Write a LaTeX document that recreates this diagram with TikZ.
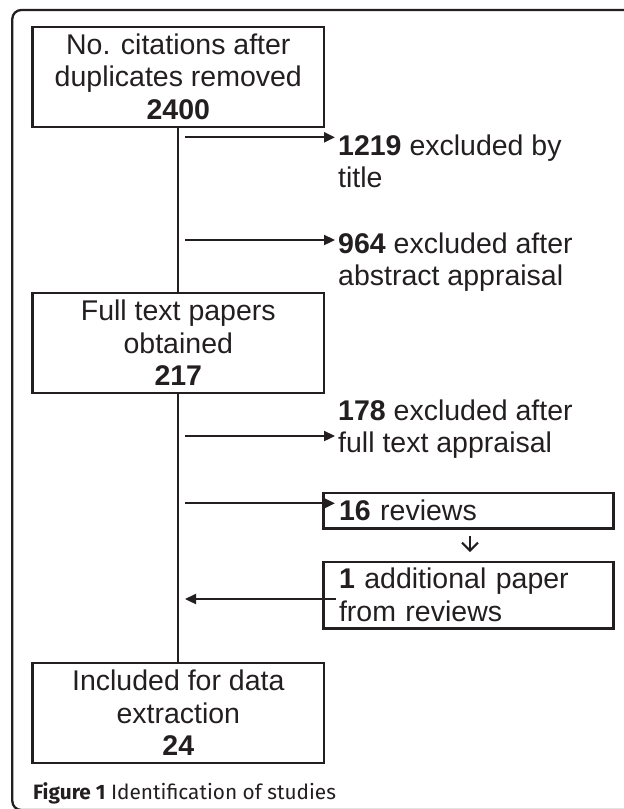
\documentclass[tikz,border=0pt]{standalone}
\usepackage{fontspec}
\setmainfont{Liberation Sans}
\newfontfamily\capfont{Fira Sans}
\usetikzlibrary{arrows.meta}
\definecolor{ink}{HTML}{231F20}
\begin{document}
\begin{tikzpicture}[x=1pt,y=-1pt,
  txt/.style={font=\fontsize{28.5}{32.5}\selectfont, text=ink},
  box/.style={txt, draw=ink, line width=2.4pt, minimum width=291.3pt, minimum height=100pt, inner sep=0pt, align=center},
  lbl/.style={txt, anchor=north west, inner sep=0pt, align=left},
  sidebox/.style={txt, draw=ink, line width=2.4pt, text width=258.6pt, inner xsep=15.7pt, inner ysep=0pt, align=left},
  arr/.style={draw=ink, line width=2.3pt, -{Triangle[length=11pt,width=10pt]}},
  conn/.style={draw=ink, line width=2.3pt}
]
\useasboundingbox (0,0) rectangle (624,809);
\clip (0,0) rectangle (624,809);
% outer frame
\draw[conn, rounded corners=9pt] (12.3,10) rectangle (700,810);
% main boxes
\node[box] (b1) at (178.3,76.7) {No. citations after\\duplicates removed\\\textbf{2400}};
\node[box] (b2) at (178.3,342.7) {Full text papers\\obtained\\\textbf{217}};
\node[box] (b3) at (178.3,712.7) {Included for data\\extraction\\\textbf{24}};
\draw[conn] (b1.south) -- (b2.north);
\draw[conn] (b2.south) -- (b3.north);
% side labels
\node[lbl] (l1) at (338,134.2) {\textbf{1219} excluded by\\title};
\node[lbl] (l2) at (338,232.5) {\textbf{964} excluded after\\abstract appraisal};
\node[lbl] (l3) at (338,399.2) {\textbf{178} excluded after\\full text appraisal};
% side boxes
\node[sidebox, minimum height=35.6pt] (rev) at (468.3,510.5) {\textbf{16} reviews};
\node[sidebox, minimum height=66.6pt] (add) at (468.3,595) {\textbf{1} additional paper\\from reviews};
% arrows
\coordinate (s1) at (185,137.3); \coordinate (t1) at (335,137.3);
\coordinate (s2) at (185,240);   \coordinate (t2) at (335,240);
\coordinate (s3) at (185,436);   \coordinate (t3) at (335,436);
\coordinate (s4) at (185,503.3); \coordinate (t4) at (335,503.3);
\coordinate (s5) at (336,599);   \coordinate (t5) at (185,599);
\draw[arr] (s1) -- (t1);
\draw[arr] (s2) -- (t2);
\draw[arr] (s3) -- (t3);
\draw[arr] (s4) -- (t4);
\draw[arr] (s5) -- (t5);
\draw[draw=ink, line width=2pt, -{Straight Barb[length=8pt,width=16pt]}, shorten <=6.5pt, shorten >=8.5pt]
  ([xshift=1.7pt]rev.south) -- ([xshift=1.7pt]add.north);
% caption
\node[anchor=base west, inner sep=0pt, font=\capfont\fontsize{20.8}{24}\selectfont, text=ink] (cap) at (33,799) {\textbf{Figure 1} Identification of studies};
\end{tikzpicture}
\end{document}
